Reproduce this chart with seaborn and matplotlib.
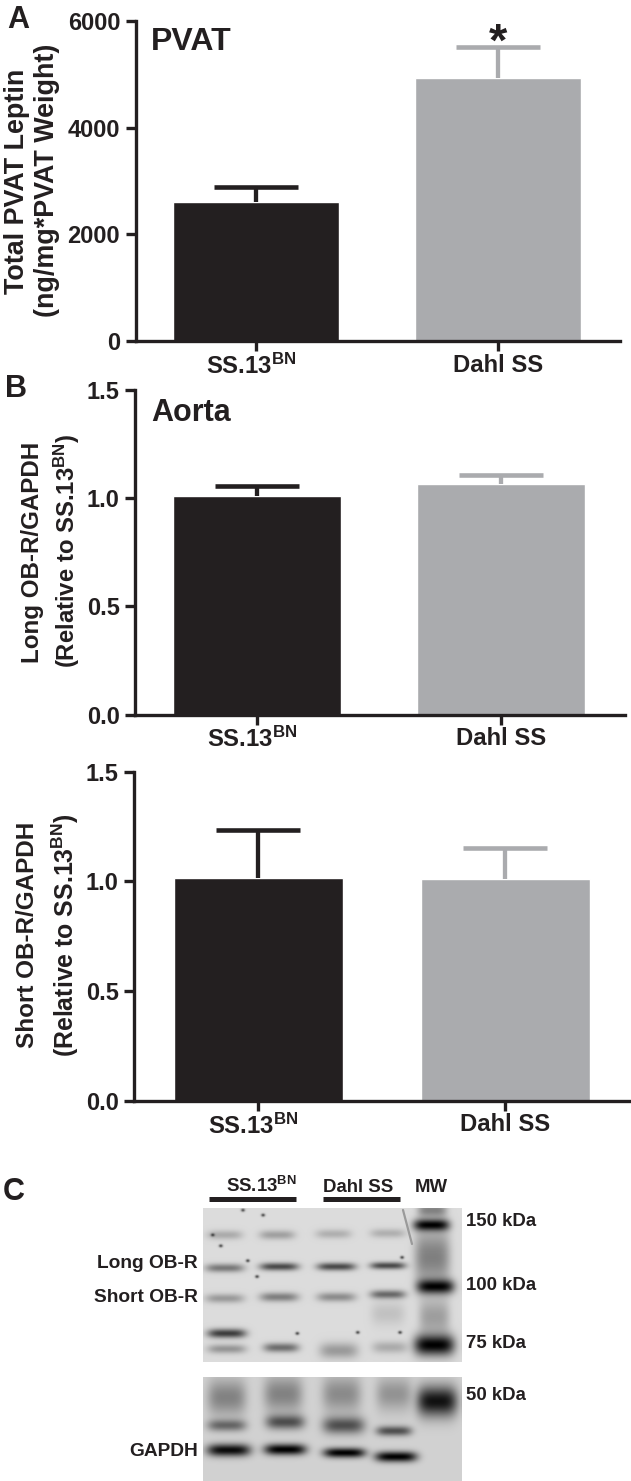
import numpy as np
import pandas as pd
import matplotlib
matplotlib.use("Agg")
import matplotlib.pyplot as plt
from matplotlib.transforms import ScaledTranslation
import seaborn as sns

# ---------- data ----------
groups = ["SS.13$^{\\mathit{BN}}$", "Dahl SS"]
leptin_mean = [2600, 4930]
leptin_sem = [295, 575]
long_mean = [1.012, 1.065]
long_sem = [0.046, 0.043]
short_mean = [1.015, 1.010]
short_sem = [0.220, 0.140]
leptin_ticks = [0, 2000, 4000, 6000]
ratio_ticks = [0.0, 0.5, 1.0, 1.5]
ratio_ticklabels = ["0.0", "0.5", "1.0", "1.5"]

# western blot bands: centre x, centre y, half width, half height, darkness (blot crop units)
upper_bands = [
    (555, 225, 44, 14, .22), (685, 225, 44, 14, .27), (825, 222, 44, 14, .20), (960, 220, 44, 14, .20),
    (555, 322, 48, 13, .45), (690, 318, 48, 12, .66), (832, 318, 48, 12, .66), (960, 315, 44, 11, .66),
    (555, 414, 48, 14, .30), (690, 410, 48, 14, .42), (832, 410, 48, 14, .36), (960, 402, 44, 13, .52),
    (560, 520, 48, 14, .72), (560, 567, 48, 14, .32), (695, 563, 44, 14, .50),
    (838, 572, 48, 24, .30), (965, 562, 44, 18, .22), (960, 460, 42, 36, .12),
    (1068, 195, 44, 18, 1.0), (1078, 378, 46, 22, 1.0), (1075, 555, 50, 32, 1.0),
    (1070, 290, 44, 80, .42), (1075, 470, 38, 55, .28), (1070, 150, 36, 22, .4),
]
lower_bands = [
    (565, 870, 54, 19, .95), (705, 868, 52, 17, 1.0), (852, 878, 52, 15, 1.0), (980, 890, 52, 16, 1.0),
    (560, 795, 48, 18, .50), (705, 785, 48, 22, .62), (850, 795, 52, 26, .62), (975, 812, 44, 15, .62),
    (560, 710, 48, 55, .38), (700, 700, 48, 55, .38), (845, 700, 48, 55, .34), (975, 700, 44, 50, .30),
    (1082, 722, 50, 46, .92),
]
specks = [(600, 150), (525, 225), (612, 300), (650, 165), (635, 348), (885, 517),
          (990, 517), (995, 290), (735, 520), (545, 258)]

# ---------- style ----------
W, H = 631, 1481
INK = "#231f20"
GREY = "#aaabae"
sns.set_theme(style="white")
plt.rcParams.update({
    "font.family": ["Liberation Sans", "DejaVu Sans"],
    "font.weight": "bold",
    "mathtext.fontset": "custom",
    "mathtext.rm": "Liberation Sans:bold",
    "mathtext.it": "Liberation Sans",
    "mathtext.bf": "Liberation Sans:bold",
    "text.color": INK,
    "axes.labelcolor": INK,
    "xtick.color": INK,
    "ytick.color": INK,
})

fig = plt.figure(figsize=(W / 100, H / 100), dpi=100, facecolor="white")


def px_axes(left, right, top, bottom, **kw):
    return fig.add_axes([left / W, 1 - bottom / H, (right - left) / W, (bottom - top) / H], **kw)


def bar_panel(left, right, y_top, y_zero, tick0, tick1, bar_w, means, sems, ymax, ticks, ticklabels):
    ax = px_axes(left, right, y_top, y_zero)
    df = pd.DataFrame({"group": groups, "value": means})
    sns.barplot(data=df, x="group", y="value", hue="group", palette=[INK, GREY],
                order=groups, hue_order=groups, dodge=False, legend=False,
                width=bar_w / (tick1 - tick0), errorbar=None, saturation=1, ax=ax)
    for i, colour in enumerate([INK, GREY]):
        c = ax.errorbar([i], [means[i]], yerr=[[0], [sems[i]]], color=colour, capsize=30.5,
                        elinewidth=3.1, capthick=3.3, zorder=1)
        c.lines[1][0].set_visible(False)
    span = tick1 - tick0
    ax.set_xlim((left - tick0) / span, (right - tick0) / span)
    ax.set_ylim(0, ymax)
    ax.set_yticks(ticks)
    ax.set_yticklabels(ticklabels)
    ax.set_xlabel("")
    ax.set_ylabel("")
    sns.despine(ax=ax)
    for s in ("left", "bottom"):
        ax.spines[s].set_linewidth(2.4)
        ax.spines[s].set_color(INK)
    ax.tick_params(axis="y", length=7, width=2.4, labelsize=17, pad=4, left=True)
    ax.tick_params(axis="x", length=7, width=2.4, labelsize=17.2, pad=2, bottom=True)
    lab = ax.get_xticklabels()[0]
    lab.set_transform(lab.get_transform() + ScaledTranslation(-5 / 100, 0, fig.dpi_scale_trans))
    return ax


a = bar_panel(135.5, 620, 21, 341, 256, 498, 166, leptin_mean, leptin_sem, 6000,
              leptin_ticks, [str(t) for t in leptin_ticks])
b1 = bar_panel(135, 625, 390, 714.5, 257, 501, 167.5, long_mean, long_sem, 1.5,
               ratio_ticks, ratio_ticklabels)
b2 = bar_panel(134, 631, 771.7, 1100.7, 258, 505, 169, short_mean, short_sem, 1.5,
               ratio_ticks, ratio_ticklabels)


# ---------- western blot ----------
def render(bands, x0, x1, y0, y1, base):
    xs = np.linspace(x0, x1, int((x1 - x0) / 2.47))
    ys = np.linspace(y0, y1, int((y1 - y0) / 3))
    X, Y = np.meshgrid(xs, ys)
    img = np.full(X.shape, base)
    for cx, cy, hw, hh, d in bands:
        img *= 1 - d * np.exp(-np.abs((X - cx) / hw) ** 4 - ((Y - cy) / hh) ** 2)
    return img, X, Y


up, XX, YY = render(upper_bands, 502, 1140, 145, 605, 0.86)
for sx, sy in specks:
    up *= 1 - 0.6 * np.exp(-((XX - sx) ** 2 + (YY - sy) ** 2) / 25)
low, _, _ = render(lower_bands, 502, 1140, 650, 962, 0.82)

for img, (t, b) in ((up, (1208.3, 1362)), (low, (1376.7, 1481))):
    ax = px_axes(203.2, 461.5, t, b)
    sns.heatmap(img, cmap="gray", vmin=0, vmax=1, cbar=False, xticklabels=False,
                yticklabels=False, ax=ax, rasterized=True)

# ---------- annotations in pixel coordinates ----------
ov = fig.add_axes([0, 0, 1, 1], zorder=10)
ov.set_xlim(0, W)
ov.set_ylim(H, 0)
ov.axis("off")
ov.patch.set_alpha(0)

for lbl, x, y in (("A", 7, 28), ("B", 5, 397), ("C", 3, 1200)):
    ov.text(x, y, lbl, fontsize=22, ha="left", va="baseline")
ov.text(151, 50, "PVAT", fontsize=23, ha="left", va="baseline")
ov.text(151, 421, "Aorta", fontsize=22, ha="left", va="baseline")
ov.text(498, 56, "*", fontsize=34, ha="center", va="baseline")

RB = "(Relative to SS.13$^{\\mathit{BN}}$)"
for txt, x, y, fs in (
    ("Total PVAT Leptin", 17, 181, 19.4),
    ("(ng/mg*PVAT Weight)", 47, 180, 19.4),
    ("Long OB-R/GAPDH", 33, 552, 17.4),
    (RB, 67, 551, 17.2),
    ("Short OB-R/GAPDH", 28, 935, 17.5),
    (RB, 65, 935, 17.9),
):
    ov.text(x, y, txt, fontsize=fs, rotation=90, ha="center", va="center")

ov.text(198, 1264, "Long OB-R", fontsize=13.8, ha="right", va="center")
ov.text(198, 1298, "Short OB-R", fontsize=13.8, ha="right", va="center")
ov.text(198, 1451, "GAPDH", fontsize=13.8, ha="right", va="center")
for txt, y in (("150 kDa", 1221), ("100 kDa", 1286), ("75 kDa", 1344), ("50 kDa", 1395)):
    ov.text(465.5, y, txt, fontsize=13.4, ha="left", va="center")
ov.text(226, 1192, "SS.13$^{\\mathit{BN}}$", fontsize=13.4, ha="left", va="baseline")
ov.text(323, 1192, "Dahl SS", fontsize=13.4, ha="left", va="baseline")
ov.text(431, 1192, "MW", fontsize=13.4, ha="center", va="baseline")
ov.plot([208.5, 295.5], [1198.7, 1198.7], color=INK, lw=3.6, solid_capstyle="butt")
ov.plot([323, 400], [1198.7, 1198.7], color=INK, lw=3.6, solid_capstyle="butt")
ov.plot([403, 412], [1210, 1244], color="#9a9a9a", lw=1.6)

fig.savefig("out.png", dpi=100, facecolor="white")
